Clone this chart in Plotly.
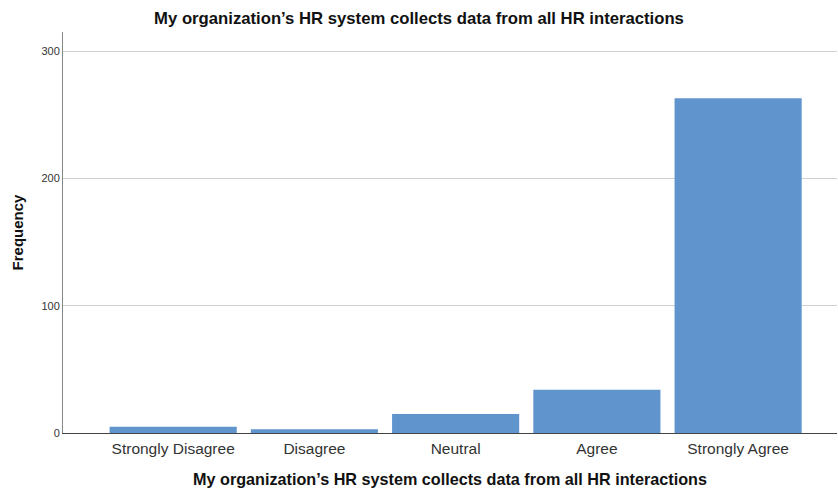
import plotly.graph_objects as go

categories = ["Strongly Disagree", "Disagree", "Neutral", "Agree", "Strongly Agree"]
frequencies = [5, 3, 15, 34, 263]
y_ticks = [0, 100, 200, 300]

title_text = "My organization\u2019s HR system collects data from all HR interactions"

fig = go.Figure(
    go.Bar(
        x=list(range(len(categories))),
        y=frequencies,
        marker=dict(color="#5f94cc", line=dict(width=0)),
        width=0.9,
    )
)

fig.update_layout(
    width=838,
    height=492,
    margin=dict(l=63, r=1, t=32, b=59),
    paper_bgcolor="white",
    plot_bgcolor="white",
    font=dict(family="Liberation Sans, Arial, sans-serif", color="#222222"),
    showlegend=False,
    title=dict(
        text="<b>" + title_text + "</b>",
        x=0.5,
        xanchor="center",
        y=0.963,
        yanchor="middle",
        font=dict(size=16.7, color="#111111"),
    ),
    xaxis=dict(
        tickmode="array",
        tickvals=list(range(len(categories))),
        ticktext=categories,
        range=[-0.78, 4.7],
        showgrid=False,
        zeroline=False,
        showline=True,
        linecolor="#444444",
        linewidth=1,
        ticks="",
        ticklabelstandoff=1,
        tickfont=dict(size=15.5, color="#333333"),
        title=dict(text="<b>" + title_text + "</b>", font=dict(size=16.2, color="#111111"), standoff=18),
    ),
    yaxis=dict(
        range=[0, 315],
        tickmode="array",
        tickvals=y_ticks,
        showgrid=True,
        gridcolor="#d0d0d0",
        gridwidth=1,
        zeroline=False,
        showline=True,
        linecolor="#888888",
        linewidth=1,
        ticks="",
        tickfont=dict(size=11, color="#333333"),
        title=dict(text="<b>Frequency</b>", font=dict(size=15, color="#111111"), standoff=14),
    ),
)

fig.write_html("out.html")
